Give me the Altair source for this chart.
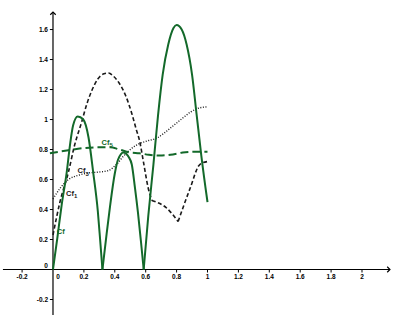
import altair as alt
import pandas as pd

# ---------------- data ----------------
X_DOMAIN = [-0.343, 2.246]
Y_DOMAIN = [-0.370, 1.797]

# Cf : solid green, three arches
cf_x = [0.0, 0.028, 0.056, 0.089, 0.11, 0.13, 0.16, 0.196, 0.23, 0.26, 0.29, 0.305, 0.32,
        0.32, 0.345, 0.369, 0.40, 0.42, 0.44, 0.455, 0.475, 0.49, 0.51, 0.53, 0.55, 0.57, 0.587,
        0.587, 0.617, 0.65, 0.68, 0.71, 0.746, 0.78, 0.80, 0.833, 0.865, 0.90, 0.93, 0.96, 1.0]
cf_y = [0.0, 0.21, 0.43, 0.65, 0.83, 0.96, 1.02, 1.0, 0.88, 0.65, 0.39, 0.2, 0.0,
        0.0, 0.22, 0.42, 0.64, 0.73, 0.77, 0.78, 0.77, 0.75, 0.70, 0.55, 0.38, 0.18, 0.0,
        0.0, 0.36, 0.70, 1.03, 1.30, 1.50, 1.61, 1.63, 1.60, 1.50, 1.30, 1.03, 0.76, 0.45]
cf_seg = [1] * 13 + [2] * 14 + [3] * 14

# Cf1 : black short dashes
cf1_x = [0.0, 0.045, 0.10, 0.14, 0.186, 0.218, 0.25, 0.29, 0.33, 0.36, 0.39, 0.43, 0.47,
         0.51, 0.54, 0.56, 0.585, 0.617, 0.64,
         0.64, 0.735, 0.81,
         0.81, 0.887, 0.95, 1.0]
cf1_y = [0.23, 0.45, 0.65, 0.83, 0.985, 1.10, 1.19, 1.27, 1.305, 1.31, 1.29, 1.24, 1.16,
         1.04, 0.93, 0.86, 0.72, 0.54, 0.46,
         0.46, 0.41, 0.32,
         0.32, 0.54, 0.70, 0.72]
cf1_seg = [1] * 19 + [2] * 3 + [3] * 4

# Cf3 : black dotted
cf3_x = [0.0, 0.045, 0.10, 0.17, 0.24, 0.30, 0.36, 0.41, 0.46, 0.50, 0.56, 0.62, 0.67,
         0.72, 0.78, 0.84, 0.89, 0.94, 1.0]
cf3_y = [0.47, 0.54, 0.60, 0.63, 0.645, 0.65, 0.66, 0.70, 0.76, 0.80, 0.84, 0.86, 0.875,
         0.91, 0.96, 1.01, 1.05, 1.075, 1.085]

# Cf5 : green long dashes
cf5_x = [-0.02, 0.10, 0.20, 0.30, 0.37, 0.43, 0.50, 0.56, 0.62, 0.69, 0.76, 0.84, 0.92, 1.0]
cf5_y = [0.775, 0.795, 0.81, 0.815, 0.815, 0.80, 0.78, 0.775, 0.765, 0.76, 0.765, 0.78, 0.785, 0.785]

GREEN = "#13692a"
DARK = "#1a1a1a"
FONT = "Liberation Sans"

# curve labels: "Cf" plus a subscript
lab_main = ["Cf", "Cf", "Cf", "Cf"]
lab_sub = ["", "1", "3", "5"]
lab_x = [0.05, 0.11, 0.185, 0.34]
lab_y = [0.25, 0.505, 0.655, 0.845]
lab_col = [GREEN, DARK, DARK, GREEN]

# axes
x_ticks = [-0.2, 0.2, 0.4, 0.6, 0.8, 1.0, 1.2, 1.4, 1.6, 1.8, 2.0]
x_tick_labels = ["-0.2", "0.2", "0.4", "0.6", "0.8", "1", "1.2", "1.4", "1.6", "1.8", "2"]
y_ticks = [-0.2, 0.2, 0.4, 0.6, 0.8, 1.0, 1.2, 1.4, 1.6]
y_tick_labels = ["-0.2", "0.2", "0.4", "0.6", "0.8", "1", "1.2", "1.4", "1.6"]
x_axis_ext = [-0.324, 2.181]
y_axis_ext = [-0.303, 1.717]

xs = alt.Scale(domain=X_DOMAIN, nice=False, zero=False)
ys = alt.Scale(domain=Y_DOMAIN, nice=False, zero=False)


def X(f="x"):
    return alt.X(f"{f}:Q", scale=xs, axis=None)


def Y(f="y"):
    return alt.Y(f"{f}:Q", scale=ys, axis=None)


# ---------------- axes ----------------
xaxis = alt.Chart(pd.DataFrame({"x": [x_axis_ext[0]], "x2": [x_axis_ext[1]], "y": [0.0]})).mark_rule(
    color="black", strokeWidth=1.2).encode(x=X(), x2="x2:Q", y=Y())
yaxis = alt.Chart(pd.DataFrame({"y": [y_axis_ext[0]], "y2": [y_axis_ext[1]], "x": [0.0]})).mark_rule(
    color="black", strokeWidth=1.2).encode(y=Y(), y2="y2:Q", x=X())

xt = pd.DataFrame({"x": x_ticks, "y": [0.0] * len(x_ticks), "y2": [-0.02] * len(x_ticks), "t": x_tick_labels})
yt = pd.DataFrame({"y": y_ticks, "x": [0.0] * len(y_ticks), "x2": [-0.02] * len(y_ticks), "t": y_tick_labels})

xtick = alt.Chart(xt).mark_rule(color="black", strokeWidth=1).encode(x=X(), y=Y(), y2="y2:Q")
ytick = alt.Chart(yt).mark_rule(color="black", strokeWidth=1).encode(y=Y(), x=X(), x2="x2:Q")

xlab = alt.Chart(xt).mark_text(fontSize=6.5, fontWeight="bold", font=FONT, align="center",
                               baseline="middle", dy=7).encode(x=X(), y=Y(), text="t:N")
ylab = alt.Chart(yt).mark_text(fontSize=6.5, fontWeight="bold", font=FONT, align="right",
                               baseline="middle", dx=-5).encode(x=X(), y=Y(), text="t:N")
zero_df = pd.DataFrame({"x": [0.0], "y": [0.0], "t": ["0"]})
xzero = alt.Chart(zero_df).mark_text(fontSize=6.5, fontWeight="bold", font=FONT, align="center",
                                     baseline="middle", dx=5, dy=7).encode(x=X(), y=Y(), text="t:N")
yzero = alt.Chart(zero_df).mark_text(fontSize=6.5, fontWeight="bold", font=FONT, align="right",
                                     baseline="middle", dx=-5, dy=-4).encode(x=X(), y=Y(), text="t:N")

arr_x = alt.Chart(pd.DataFrame({"x": [x_axis_ext[1]], "y": [0.0]})).mark_point(
    shape="M-1,-1L0,0L-1,1", size=30, filled=False, color="black", strokeWidth=1.2, opacity=1
).encode(x=X(), y=Y())
arr_y = alt.Chart(pd.DataFrame({"x": [0.0], "y": [y_axis_ext[1]]})).mark_point(
    shape="M-1,1L0,0L1,1", size=30, filled=False, color="black", strokeWidth=1.2, opacity=1
).encode(x=X(), y=Y())

# ---------------- curves ----------------
cf = alt.Chart(pd.DataFrame({"x": cf_x, "y": cf_y, "s": cf_seg})).mark_line(
    color=GREEN, strokeWidth=2, interpolate="monotone").encode(x=X(), y=Y(), detail="s:N", order="x:Q")
cf1 = alt.Chart(pd.DataFrame({"x": cf1_x, "y": cf1_y, "s": cf1_seg})).mark_line(
    color=DARK, strokeWidth=1.6, strokeDash=[4, 2.5], interpolate="monotone").encode(
    x=X(), y=Y(), detail="s:N", order="x:Q")
cf3 = alt.Chart(pd.DataFrame({"x": cf3_x, "y": cf3_y})).mark_line(
    color=DARK, strokeWidth=1.4, strokeDash=[1, 1.6], interpolate="monotone").encode(x=X(), y=Y())
cf5 = alt.Chart(pd.DataFrame({"x": cf5_x, "y": cf5_y})).mark_line(
    color=GREEN, strokeWidth=2, strokeDash=[8, 4], interpolate="monotone").encode(x=X(), y=Y())

lab_df = pd.DataFrame({"x": lab_x, "y": lab_y, "t": lab_main, "s": lab_sub, "c": lab_col})
col_enc = alt.Color("c:N", scale=None)
labs = alt.Chart(lab_df).mark_text(
    fontSize=7.5, fontWeight="bold", font=FONT, align="center", baseline="middle").encode(
    x=X(), y=Y(), text="t:N", color=col_enc)
subs = alt.Chart(lab_df).mark_text(
    fontSize=6, fontWeight="bold", font=FONT, align="left", baseline="middle", dx=4, dy=2.5).encode(
    x=X(), y=Y(), text="s:N", color=col_enc)

chart = alt.layer(
    xaxis, yaxis, xtick, ytick, xlab, ylab, xzero, yzero, arr_x, arr_y,
    cf1, cf3, cf5, cf, labs, subs
).properties(
    width=400, height=325, autosize=alt.AutoSizeParams(type="none"), padding=0, background="white"
).configure_view(stroke=None)

chart.save("out.html", embed_options={"renderer": "svg", "actions": False})
